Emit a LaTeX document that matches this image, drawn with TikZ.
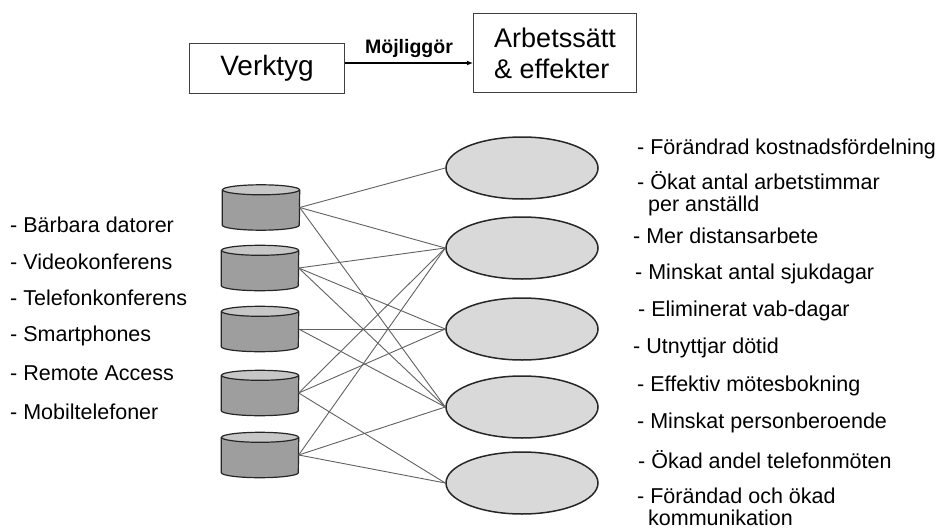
\documentclass[tikz,border=0pt]{standalone}
\usepackage{fontspec}
\setmainfont{Liberation Sans}
\usetikzlibrary{shapes.geometric,arrows.meta}
\newcommand{\toolcyl}[2]{% #1 = node name, #2 = centre
  \node[toolbox] (#1) at (#2) {};
  \fill[black!38] ([yshift=-5pt]#1.north west) -- ([yshift=5pt]#1.south west)
    arc[start angle=180,end angle=0,x radius=38.5,y radius=5]
    -- ([yshift=-5pt]#1.north east) -- cycle;
  \filldraw[fill=black!22,draw=black!85,line width=1.2pt]
    ([yshift=-5pt]#1.north) ellipse[x radius=38.5,y radius=5];
  \draw[black!85,line width=1.2pt] ([yshift=-5pt]#1.north west) -- ([yshift=5pt]#1.south west)
    arc[start angle=180,end angle=0,x radius=38.5,y radius=5]
    -- ([yshift=-5pt]#1.north east);
}
\begin{document}
\begin{tikzpicture}[x=1pt,y=-1pt,
  box/.style={draw=black!75,line width=1pt,fill=white},
  toolbox/.style={rectangle,minimum width=77pt,minimum height=45pt,inner sep=0pt},
  effect/.style={ellipse,draw=black!85,line width=1.5pt,fill=black!15,
    minimum width=152pt,minimum height=62pt,inner sep=0pt},
  link/.style={draw=black!62,line width=0.9pt},
  lbl/.style={anchor=west,inner sep=0pt,font=\fontsize{21.5}{24}\selectfont},
]
\useasboundingbox (0,0) rectangle (943,530);

% header: tools enable ways of working
\node[box,minimum width=155pt,minimum height=50pt,font=\fontsize{28}{30}\selectfont] (verktyg) at (267,68) {Verktyg};
\node[box,minimum width=163pt,minimum height=79pt,anchor=north west,inner xsep=11pt,
  align=left,font=\fontsize{27}{31}\selectfont] (arbete) at (473,13) {Arbetssätt\\\& effekter};
\coordinate (a0) at ([yshift=5pt]verktyg.east);
\draw[line width=1.8pt,-{Latex[length=6pt,width=5pt]}] (a0) -- (a0 -| arbete.west)
  node[midway,above=1pt,font=\bfseries\fontsize{19.5}{20}\selectfont] (moj) {Möjliggör};

% tools
\toolcyl{c1}{261,207.5}
\toolcyl{c2}{260,268}
\toolcyl{c3}{260,329}
\toolcyl{c4}{260,393}
\toolcyl{c5}{260,455}

% effects
\node[effect] (e1) at (522,168) {};
\node[effect] (e2) at (522,248) {};
\node[effect] (e3) at (522,329) {};
\node[effect] (e4) at (522,407) {};
\node[effect] (e5) at (522,483) {};

% connections
\foreach \a/\b in {c1/e1,c1/e2,c1/e4,c2/e2,c2/e3,c2/e4,c3/e3,c3/e4,c4/e2,c4/e3,c4/e5,c5/e2,c5/e4,c5/e5}
  \draw[link] (\a.east) -- (\b.west);

% tool list
\node[lbl] (t1) at (10,225) {- Bärbara datorer};
\node[lbl] (t2) at (10,262) {- Videokonferens};
\node[lbl] (t3) at (10,298) {- Telefonkonferens};
\node[lbl] (t4) at (10,336) {- Smartphones};
\node[lbl] (t5) at (10,373) {- Remote Access};
\node[lbl] (t6) at (10,412) {- Mobiltelefoner};

% effect list
\node[lbl] (r1) at (637,149) {- Förändrad kostnadsfördelning};
\node[lbl] (r2) at (637,181) {- Ökat antal arbetstimmar};
\node[lbl] (r2b) at (648,206) {per anställd};
\node[lbl] (r3) at (633,236) {- Mer distansarbete};
\node[lbl] (r4) at (635,274) {- Minskat antal sjukdagar};
\node[lbl] (r5) at (638,311) {- Eliminerat vab-dagar};
\node[lbl] (r6) at (633,348) {- Utnyttjar dötid};
\node[lbl] (r7) at (637,386) {- Effektiv mötesbokning};
\node[lbl] (r8) at (637,423) {- Minskat personberoende};
\node[lbl] (r9) at (638,460) {- Ökad andel telefonmöten};
\node[lbl] (r10) at (637,496) {- Förändad och ökad};
\node[lbl] (r10b) at (648,518) {kommunikation};
\end{tikzpicture}
\end{document}
